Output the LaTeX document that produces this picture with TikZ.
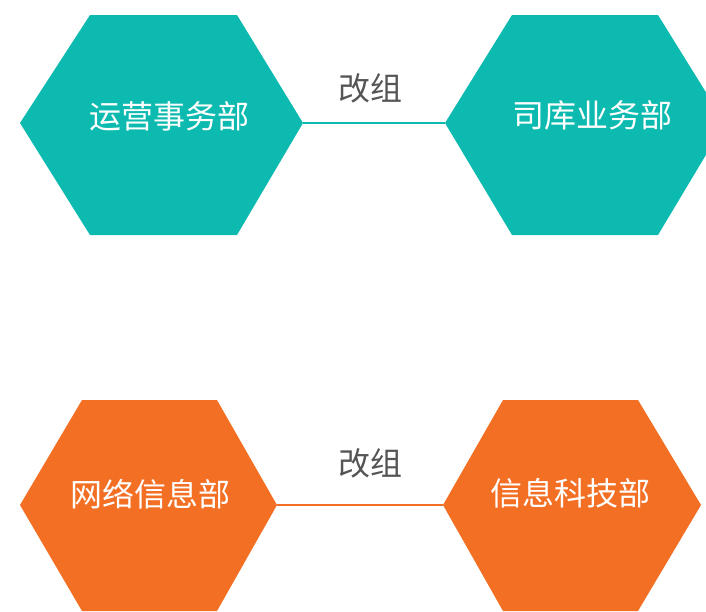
\documentclass[tikz,border=0pt]{standalone}
\usepackage{fontspec}
\newfontfamily\cjk{Noto Sans CJK SC}
\usepackage{tikz}

\definecolor{tealhex}{RGB}{12,186,176}
\definecolor{orangehex}{RGB}{243,111,36}
\definecolor{labelgray}{RGB}{85,85,85}

\tikzset{
  dept/.style={text=white,font=\cjk\fontsize{32}{32}\selectfont,inner sep=0pt},
  reorg/.style={text=labelgray,font=\cjk\fontsize{32}{32}\selectfont,inner sep=0pt},
}

\begin{document}
\begin{tikzpicture}[x=1pt,y=-1pt]
\clip (0,0) rectangle (706,611);
% top pair
\coordinate (yyL) at (20,123);
\coordinate (yyR) at (303,123);
\fill[tealhex] (yyL) -- (90,15) -- (237,15) -- (yyR) -- (237,235) -- (90,235) -- cycle;
\node[dept] (yunying) at (169,116) {运营事务部};
\coordinate (skL) at (445,123);
\coordinate (skR) at (725,123);
\fill[tealhex] (skL) -- (512,15) -- (658,15) -- (skR) -- (658,235) -- (512,235) -- cycle;
\node[dept] (siku) at (592,115) {司库业务部};
\draw[tealhex,line width=1.5pt] (yyR) -- (skL);
\node[reorg] (gaizu1) at (370,88) {改组};
% bottom pair
\coordinate (wlL) at (20,505);
\coordinate (wlR) at (277,505);
\fill[orangehex] (wlL) -- (82,400) -- (217,400) -- (wlR) -- (217,611) -- (82,611) -- cycle;
\node[dept] (wangluo) at (150,494) {网络信息部};
\coordinate (xxL) at (443,505);
\coordinate (xxR) at (701,505);
\fill[orangehex] (xxL) -- (503,400) -- (638,400) -- (xxR) -- (638,611) -- (503,611) -- cycle;
\node[dept] (xinxi) at (570,493) {信息科技部};
\draw[orangehex,line width=1.5pt] (wlR) -- (xxL);
\node[reorg] (gaizu2) at (370,463) {改组};
\end{tikzpicture}
\end{document}
